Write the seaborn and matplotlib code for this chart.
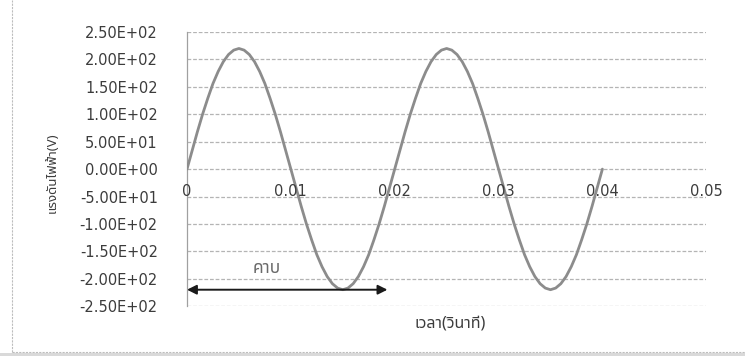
import matplotlib
matplotlib.use("Agg")
import matplotlib.pyplot as plt
import matplotlib.patches as mpatches
import matplotlib.lines as mlines
import pandas as pd
import seaborn as sns

# Time samples (s), every 0.5 ms over two cycles
time_s = [i * 0.0005 for i in range(81)]
# Measured voltage (V) at each sample
voltage_v = [
    0, 34, 68, 100, 129, 156, 178, 196, 209, 217,
    220, 217, 209, 196, 178, 156, 129, 100, 68, 34,
    0, -34, -68, -100, -129, -156, -178, -196, -209, -217,
    -220, -217, -209, -196, -178, -156, -129, -100, -68, -34,
    0, 34, 68, 100, 129, 156, 178, 196, 209, 217,
    220, 217, 209, 196, 178, 156, 129, 100, 68, 34,
    0, -34, -68, -100, -129, -156, -178, -196, -209, -217,
    -220, -217, -209, -196, -178, -156, -129, -100, -68, -34,
    0,
]

x_ticks = [0, 0.01, 0.02, 0.03, 0.04, 0.05]
x_tick_labels = ["0", "0.01", "0.02", "0.03", "0.04", "0.05"]
y_ticks = [250, 200, 150, 100, 50, 0, -50, -100, -150, -200, -250]
y_tick_labels = ["2.50E+02", "2.00E+02", "1.50E+02", "1.00E+02", "5.00E+01",
                 "0.00E+00", "-5.00E+01", "-1.00E+02", "-1.50E+02",
                 "-2.00E+02", "-2.50E+02"]

period_start, period_end, period_level = 0.0, 0.0193, -220
period_label = "คาบ"
x_label = "เวลา(วินาที)"
y_label = "แรงดันไฟฟ้า(V)"

sns.set_theme(style="white")
plt.rcParams["font.family"] = ["DejaVu Sans"]
thai_family = ["Noto Sans Thai", "Sarabun", "IBM Plex Sans Thai", "DejaVu Sans"]

text_color = "#3c3c3c"
grid_color = "#b4b4b4"

fig = plt.figure(figsize=(7.45, 3.56), dpi=100)
ax = fig.add_axes([0.251, 0.140, 0.697, 0.770])

df = pd.DataFrame({"time": time_s, "voltage": voltage_v})
sns.lineplot(data=df, x="time", y="voltage", ax=ax, color="#8c8c8c",
             linewidth=2.0, zorder=3)

ax.set_xlim(0, 0.05)
ax.set_ylim(-250, 250)

# horizontal gridlines
for yv in y_ticks:
    ax.axhline(yv, color=grid_color, linewidth=0.9, linestyle=(0, (3, 1.5)),
               zorder=1)

# y axis line at x=0; x tick labels sit just under the y=0 line
for side in ["top", "right", "bottom"]:
    ax.spines[side].set_visible(False)
ax.spines["left"].set_color("#a0a0a0")
ax.spines["left"].set_linewidth(0.9)

ax.set_yticks(y_ticks)
ax.set_yticklabels(y_tick_labels)
ax.tick_params(axis="y", length=0, pad=21, labelsize=10.5, labelcolor=text_color)

ax.set_xticks([])
ax.set_xlabel("")
ax.set_ylabel("")
for xv, lab in zip(x_ticks, x_tick_labels):
    ax.text(xv, -40, lab, ha="center", va="center", fontsize=10.5,
            color=text_color, zorder=4)

# period annotation
ax.annotate("", xy=(period_start, period_level), xytext=(period_end, period_level),
            arrowprops=dict(arrowstyle="<|-|>", color="#1a1a1a", lw=1.4,
                            mutation_scale=14, shrinkA=0, shrinkB=0), zorder=5)
ax.text(0.0077, -181, period_label, ha="center", va="center", fontsize=12.5,
        color="#6a6a6a", family=thai_family)

fig.text(450 / 745, 1 - 323 / 356, x_label, ha="center", va="center",
         fontsize=11.5, color=text_color, family=thai_family)
fig.text(52 / 745, 1 - 173 / 356, y_label, ha="center", va="center",
         rotation=90, fontsize=9.5, color=text_color, family=thai_family)

# chart frame: left and bottom edges, plus the page edge below it
frame_style = dict(transform=fig.transFigure, color="#bdbdbd", linewidth=0.8,
                   linestyle=(0, (2, 1)))
fig.add_artist(mlines.Line2D([12 / 745, 12 / 745], [4 / 356, 1.0], **frame_style))
fig.add_artist(mlines.Line2D([12 / 745, 1.0], [4 / 356, 4 / 356], **frame_style))
fig.add_artist(mpatches.Rectangle((0, 0), 1, 3 / 356, transform=fig.transFigure,
                                  facecolor="#d9d9d9", edgecolor="none"))

fig.savefig("out.png", dpi=100)
